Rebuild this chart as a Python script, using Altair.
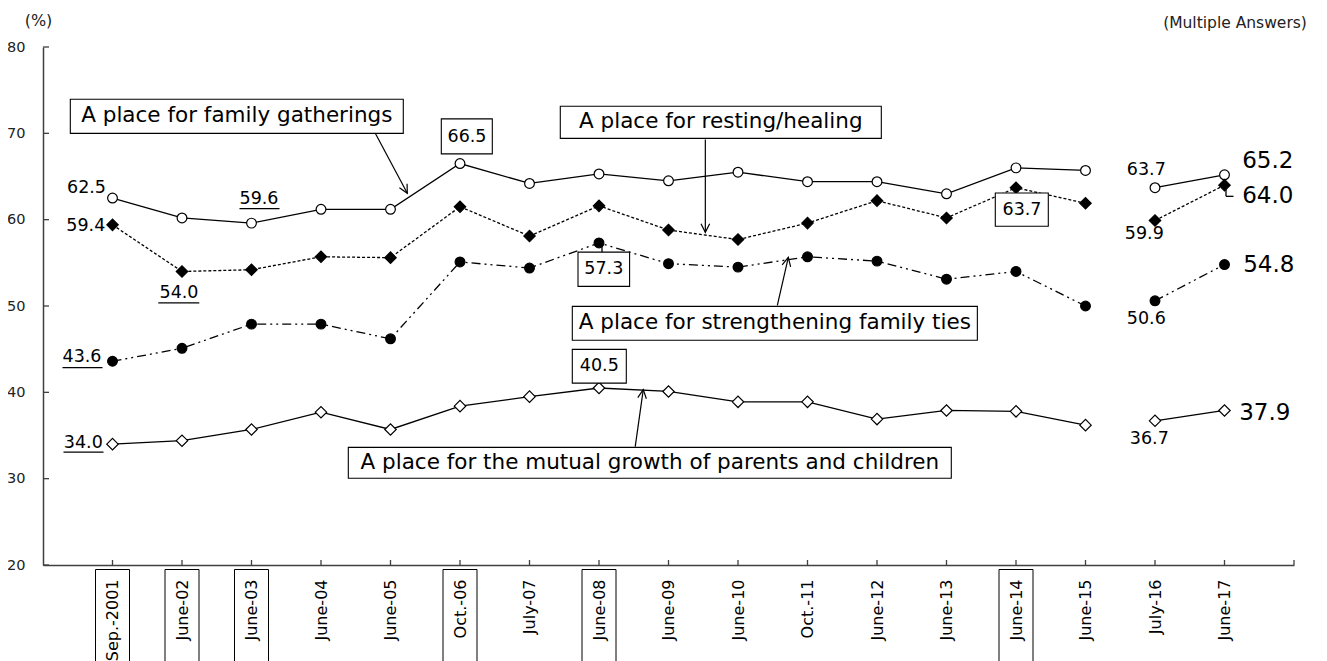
import math
import altair as alt
import pandas as pd

# ---------------- data ----------------
periods = ["Sep.-2001", "June-02", "June-03", "June-04", "June-05", "Oct.-06", "July-07",
           "June-08", "June-09", "June-10", "Oct.-11", "June-12", "June-13", "June-14",
           "June-15", "July-16", "June-17"]
family_gatherings = [62.5, 60.2, 59.6, 61.2, 61.2, 66.5, 64.2, 65.3, 64.5, 65.5, 64.4, 64.4, 63.0, 66.0, 65.7, 63.7, 65.2]
resting_healing = [59.4, 54.0, 54.2, 55.7, 55.6, 61.5, 58.1, 61.6, 58.8, 57.7, 59.6, 62.2, 60.2, 63.7, 61.9, 59.9, 64.0]
family_ties = [43.6, 45.1, 47.9, 47.9, 46.2, 55.1, 54.4, 57.3, 54.9, 54.5, 55.7, 55.2, 53.1, 54.0, 50.0, 50.6, 54.8]
mutual_growth = [34.0, 34.4, 35.7, 37.7, 35.7, 38.4, 39.5, 40.5, 40.1, 38.9, 38.9, 36.9, 37.9, 37.8, 36.2, 36.7, 37.9]
boxed_periods = ["Sep.-2001", "June-02", "June-03", "Oct.-06", "June-08", "June-14"]
series_names = {
    "family": "A place for family gatherings",
    "resting": "A place for resting/healing",
    "ties": "A place for strengthening family ties",
    "mutual": "A place for the mutual growth of parents and children",
}
series = {"family": family_gatherings, "resting": resting_healing,
          "ties": family_ties, "mutual": mutual_growth}
break_after = "June-15"   # survey method change: lines are not joined across it
y_ticks = [20, 30, 40, 50, 60, 70, 80]

# ---------------- layout / style ----------------
W, H = 1251, 518
X_DOMAIN = [-1, 17]
Y_DOMAIN = [20, 80]
PXX = W / (X_DOMAIN[1] - X_DOMAIN[0])
PXY = H / (Y_DOMAIN[1] - Y_DOMAIN[0])
FONT = "DejaVu Sans"
AX = "#404040"

styles = {
    "family": dict(dash=None, shape="circle", fill="white", size=95),
    "resting": dict(dash=[3, 2], shape="diamond", fill="black", size=130),
    "ties": dict(dash=[9, 4, 2, 4, 2, 4], shape="circle", fill="black", size=95),
    "mutual": dict(dash=None, shape="diamond", fill="white", size=130),
}

# value labels: (series, index, dx px, dy px, big)
value_labels = [
    ("family", 0, -26, -10, False), ("family", 2, 7.5, -24, False), ("family", 5, 7, -27, False),
    ("family", 15, -8.7, -17.7, False), ("family", 16, 43.3, -13.4, True),
    ("resting", 0, -26.7, 1.5, False), ("resting", 1, -3, 22, False), ("resting", 13, 6, 22.5, False),
    ("resting", 15, -10.7, 13, False), ("resting", 16, 43.3, 11.2, True),
    ("ties", 0, -30.5, -4, False), ("ties", 7, 4.8, 26.3, False),
    ("ties", 15, -8.7, 18.6, False), ("ties", 16, 44.3, 0.8, True),
    ("mutual", 0, -29.2, -1, False), ("mutual", 7, 0.3, -21.7, False),
    ("mutual", 15, -5.7, 18.6, False), ("mutual", 16, 40.3, 2.5, True),
]
underlines = [("family", 2, -12, 28, -14.5), ("resting", 1, -23.7, 17.3, 31.5),
              ("ties", 0, -50, -10, 6.4), ("mutual", 0, -49, -9, 8)]
value_boxes = [("family", 5, -18.7, 32.3, -44.7, -9.7), ("resting", 13, -20.7, 32.3, 5.3, 38.6),
               ("ties", 7, -21, 30.6, 9.1, 43.4), ("mutual", 7, -26.7, 27.3, -38.6, -4.9)]
leaders = [("ties", 7, 3, 0, 3, 9.1), ("resting", 16, 1.5, 3, 1.5, 11.2), ("resting", 16, 1.5, 11.2, 9, 11.2)]

# callouts (data coordinates): box corners and arrow start/end
callouts = [
    dict(s="family", x1=-0.607, x2=4.184, y1=73.94, y2=70.0, ax1=3.781, ay1=70.0, ax2=4.242, ay2=63.05),
    dict(s="resting", x1=6.443, x2=11.062, y1=73.13, y2=69.42, ax1=8.53, ay1=69.3, ax2=8.53, ay2=58.53),
    dict(s="ties", x1=6.616, x2=12.444, y1=49.96, y2=46.03, ax1=9.566, ay1=50.07, ax2=9.724, ay2=55.63),
    dict(s="mutual", x1=3.393, x2=12.069, y1=33.63, y2=30.04, ax1=7.521, ay1=33.72, ax2=7.637, ay2=40.32),
]

XS = alt.Scale(domain=X_DOMAIN, nice=False, zero=False)
YS = alt.Scale(domain=Y_DOMAIN, nice=False, zero=False)

label_expr = "[" + ",".join(f"'{p}'" for p in periods) + "][datum.value]"
XAX = alt.Axis(
    values=list(range(len(periods))), labelExpr=label_expr, labelAngle=270,
    labelFontSize=16, labelPadding=14, ticks=False, tickSize=0, title=None,
    labelColor="black", labelFont=FONT, domainColor=AX, domainWidth=1.5, grid=False,
    labelOverlap=False)
YAX = alt.Axis(
    values=y_ticks, ticks=False, tickSize=0, labelPadding=18, labelFontSize=14.5,
    labelFont=FONT, labelColor="#222", domainColor=AX, domainWidth=1.5, grid=False,
    title="(%)", titleAngle=0, titleX=-5, titleY=-27, titleAlign="center",
    titleBaseline="middle", titleFontSize=16, titleFontWeight="normal", titleFont=FONT,
    titleColor="#222")


def ex(f):
    return alt.X(f"{f}:Q", scale=XS, axis=XAX)


def ey(f):
    return alt.Y(f"{f}:Q", scale=YS, axis=YAX)


brk = periods.index(break_after)
rows = []
for key, vals in series.items():
    for i, v in enumerate(vals):
        rows.append(dict(s=key, i=i, period=periods[i], v=v, seg="a" if i <= brk else "b"))
df = pd.DataFrame(rows)

layers = []

# inward ticks
xt = pd.DataFrame({"t": list(range(len(periods) + 1))})
layers.append(alt.Chart(xt).mark_rule(color=AX, strokeWidth=1.3).encode(
    x=ex("t"), y=alt.value(H - 5), y2=alt.value(H)))
yt = pd.DataFrame({"t": y_ticks})
layers.append(alt.Chart(yt).mark_rule(color=AX, strokeWidth=1.3).encode(
    y=ey("t"), x=alt.value(0), x2=alt.value(6)))

# boxes around some period labels
lb = pd.DataFrame({"i": [periods.index(p) for p in boxed_periods]})
lb["x1"] = lb["i"] - 17 / PXX
lb["x2"] = lb["i"] + 17 / PXX
layers.append(alt.Chart(lb).mark_rect(fill="white", fillOpacity=0, stroke="black", strokeWidth=1).encode(
    x=ex("x1"), x2=alt.X2("x2"), y=alt.value(H + 4.5), y2=alt.value(H + 130)))

# lines and points
for key in series:
    st = styles[key]
    sub = df[df.s == key]
    lk = dict(color="black", strokeWidth=1.3)
    if st["dash"]:
        lk["strokeDash"] = st["dash"]
    layers.append(alt.Chart(sub).mark_line(**lk).encode(x=ex("i"), y=ey("v"), detail="seg:N"))
for key in series:
    st = styles[key]
    sub = df[df.s == key]
    layers.append(alt.Chart(sub).mark_point(
        shape=st["shape"], filled=True, fill=st["fill"], stroke="black", strokeWidth=1.2,
        size=st["size"], opacity=1).encode(x=ex("i"), y=ey("v")))

# value boxes and callout boxes
vb = pd.DataFrame([dict(x1=i + a / PXX, x2=i + b / PXX, y1=series[k][i] - c / PXY, y2=series[k][i] - d / PXY)
                   for k, i, a, b, c, d in value_boxes])
cb = pd.DataFrame([dict(x1=c["x1"], x2=c["x2"], y1=c["y1"], y2=c["y2"]) for c in callouts])
boxes = pd.concat([vb, cb], ignore_index=True)
layers.append(alt.Chart(boxes).mark_rect(fill="white", stroke="black", strokeWidth=1.1).encode(
    x=ex("x1"), x2=alt.X2("x2"), y=ey("y1"), y2=alt.Y2("y2")))

# underlines and leaders
ru = [dict(x1=i + a / PXX, x2=i + b / PXX, y1=series[k][i] - d / PXY, y2=series[k][i] - d / PXY)
      for k, i, a, b, d in underlines]
ru += [dict(x1=i + a / PXX, x2=i + c / PXX, y1=series[k][i] - b / PXY, y2=series[k][i] - d / PXY)
       for k, i, a, b, c, d in leaders]
layers.append(alt.Chart(pd.DataFrame(ru)).mark_rule(color="black", strokeWidth=1.3).encode(
    x=ex("x1"), x2=alt.X2("x2"), y=ey("y1"), y2=alt.Y2("y2")))

# arrows
ar = pd.DataFrame(callouts)
ar["ang"] = [math.degrees(math.atan2((r.ax2 - r.ax1) * PXX, (r.ay2 - r.ay1) * PXY)) % 360
             for r in ar.itertuples()]
layers.append(alt.Chart(ar).mark_rule(color="black", strokeWidth=1.2).encode(
    x=ex("ax1"), x2=alt.X2("ax2"), y=ey("ay1"), y2=alt.Y2("ay2")))
layers.append(alt.Chart(ar).mark_point(
    shape="M -0.5 1 L 0 0 L 0.5 1", filled=False, stroke="black", strokeWidth=1.2, size=300,
    opacity=1).encode(x=ex("ax2"), y=ey("ay2"), angle=alt.Angle("ang:Q", scale=None)))

# texts
tx = [dict(x=i + dx / PXX, y=series[k][i] - dy / PXY, t=f"{series[k][i]:.1f}", fs=23 if big else 17.5)
      for k, i, dx, dy, big in value_labels]
tx += [dict(x=(c["x1"] + c["x2"]) / 2, y=(c["y1"] + c["y2"]) / 2, t=series_names[c["s"]], fs=21.5)
       for c in callouts]
layers.append(alt.Chart(pd.DataFrame(tx)).mark_text(
    font=FONT, align="center", baseline="middle", color="black").encode(
    x=ex("x"), y=ey("y"), text="t:N", size=alt.Size("fs:Q", scale=None)))

note = alt.Chart(pd.DataFrame({"t": ["(Multiple Answers)"]})).mark_text(
    font=FONT, fontSize=15.5, align="center", baseline="middle", color="#222").encode(
    text="t:N", x=alt.value(1192), y=alt.value(-24))
layers.append(note)

chart = alt.layer(*layers).properties(
    width=W, height=H,
    padding={"left": 35, "top": 39, "right": 25, "bottom": 96},
    autosize=alt.AutoSizeParams(type="none"),
).configure_view(stroke=None)

chart.save("out.html", embed_options={"renderer": "svg", "actions": False})
